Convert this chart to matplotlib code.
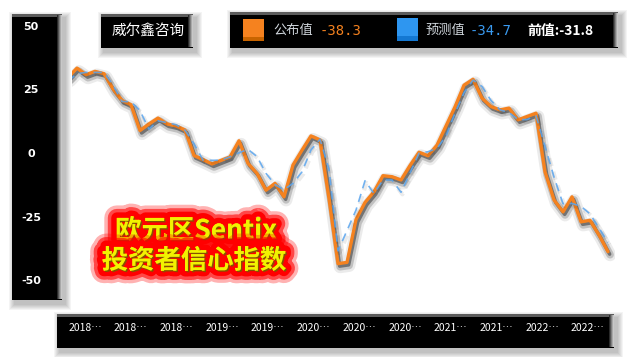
import numpy as np
import matplotlib
matplotlib.use('Agg')
import matplotlib.pyplot as plt
import matplotlib.patheffects as pe
from matplotlib.patches import Rectangle

# ---------------- data (monthly, Oct 2017 .. Oct 2022) ----------------
actual = [30.0, 33.7, 31.1,
          32.4, 31.5, 25.5, 21.0, 19.3, 9.2, 11.8, 14.1, 11.8, 11.0, 9.4, -0.6,
          -2.2, -3.9, -2.5, -1.1, 5.2, -3.7, -7.6, -14.2, -11.5, -16.8, -4.3, 1.5,
          7.1, 5.5, -17.5, -43.0, -42.5, -25.7, -19.0, -14.8, -8.5, -8.9, -10.2, -4.5,
          0.7, -0.7, 3.5, 11.0, 18.5, 27.0, 29.3, 21.9, 18.6, 17.3, 18.0, 13.4,
          14.7, 16.0, -7.0, -18.0, -22.7, -16.8, -26.6, -26.0, -31.8, -38.3]
forecast = [28.5, 31.5, 32.0,
            32.0, 32.0, 27.0, 20.6, 20.5, 17.0, 9.7, 13.0, 12.3, 11.5, 9.4, 4.0,
            -2.4, -2.5, -2.4, -1.1, 0.5, 1.8, -1.0, -7.6, -12.0, -14.0, -11.5, -7.0,
            1.6, 5.8, -6.0, -38.0, -30.0, -22.0, -10.5, -15.5, -10.2, -10.2, -15.0, -7.5,
            0.3, 0.9, 2.2, 7.0, 16.0, 24.0, 29.0, 26.5, 21.0, 17.3, 16.3, 13.5,
            13.5, 15.0, 3.0, -9.0, -19.5, -19.4, -20.5, -23.5, -29.0, -34.7]
y_ticks = [50, 25, 0, -25, -50]
x_labels = ["2018…", "2018…", "2018…", "2019…", "2019…", "2020…",
            "2020…", "2020…", "2021…", "2021…", "2022…", "2022…"]
title_lines = ["欧元区Sentix", "投资者信心指数"]
watermark = "威尔鑫咨询"
legend_names = ["公布值", "预测值"]
prev_name = "前值"

ORANGE = '#F5821F'
CJK = ['Noto Sans CJK SC', 'DejaVu Sans']

W, H = 631, 357
fig = plt.figure(figsize=(W / 100, H / 100), dpi=100)
fig.patch.set_facecolor('white')

# background / decoration layer in pixel coordinates
bg = fig.add_axes([0, 0, 1, 1])
bg.set_xlim(0, W)
bg.set_ylim(H, 0)
bg.axis('off')


def panel(x0, y0, x1, y1):
    w, h = x1 - x0, y1 - y0
    for s in range(1, 7):
        bg.add_patch(Rectangle((x0 + 3 - s, y0 + 4 - s), w + 2 * s, h + 2 * s,
                               color='black', alpha=0.045, lw=0, zorder=1))
    bg.add_patch(Rectangle((x0, y0), w, h, color='black', lw=0, zorder=2))
    bg.add_patch(Rectangle((x0, y0), w, 3, color='#5c5c5c', lw=0, zorder=3))
    cols = ['#2a2a2a', '#555555', '#808080', '#a8a8a8', '#c8c8c8']
    for i, c in enumerate(cols):
        bg.add_patch(Rectangle((x1 - 5 + i, y0 + 1), 1, h - 2, color=c, lw=0, zorder=3))


panel(12, 14, 62, 300)        # y axis panel
panel(101, 14, 193, 48)       # watermark
panel(230, 12, 618, 48)       # legend
panel(57, 314, 614, 348)      # x label panel

bg.text(148, 31, watermark, color='white', fontsize=10.5, family=CJK,
        ha='center', va='center', zorder=5)

# legend
last_a, last_f, prev_a = actual[-1], forecast[-1], actual[-2]
bg.add_patch(Rectangle((243, 18.5), 21, 22, color=ORANGE, lw=0, zorder=5))
bg.add_patch(Rectangle((243, 36.5), 21, 4, color='#C86400', lw=0, zorder=6))
bg.text(273, 30.5, legend_names[0], color='#D0D6DC', fontsize=9.5, family=CJK,
        ha='left', va='center', zorder=6)
bg.text(320, 31, f"{last_a:.1f}", color=ORANGE, fontsize=10, family='DejaVu Sans Mono',
        ha='left', va='center', zorder=6)
bg.add_patch(Rectangle((397, 17.5), 21, 23, color='#2E96F0', lw=0, zorder=5))
bg.add_patch(Rectangle((397, 35.5), 21, 5, color='#1478D2', lw=0, zorder=6))
bg.text(426, 30.5, legend_names[1], color='#D0D6DC', fontsize=9.5, family=CJK,
        ha='left', va='center', zorder=6)
bg.text(470, 31, f"{last_f:.1f}", color='#3A9AF0', fontsize=10, family='DejaVu Sans Mono',
        ha='left', va='center', zorder=6)
bg.text(527, 31, f"{prev_name}:{prev_a:.1f}", color='white', fontsize=10, family=CJK,
        fontweight='bold', ha='left', va='center', zorder=6)

# y axis labels panel
ax_y = fig.add_axes([12 / W, (H - 300) / H, 50 / W, 286 / H])
ax_y.set_xlim(0, 1)
ax_y.set_ylim((154 - 300) / 2.55, (154 - 14) / 2.55)
ax_y.axis('off')
for v in y_ticks:
    ax_y.text(0.38, v, str(v), color='white', fontsize=8, fontweight='bold',
              ha='center', va='center')

# x labels panel
ax_x = fig.add_axes([57 / W, (H - 348) / H, 557 / W, 34 / H])
ax_x.set_xlim(-(85 - 57) / 45.7, (614 - 85) / 45.7)
ax_x.set_ylim(0, 1)
ax_x.axis('off')
for k, lab in enumerate(x_labels):
    ax_x.text(k, 0.58, lab, color='white', fontsize=7.5, family=CJK,
              ha='center', va='center')

# main chart
ax = fig.add_axes([72 / W, (H - 281.5) / H, (615 - 72) / W, 255 / H])
ax.set_ylim(-50, 50)
ax.set_xlim((72 - 68) / 9, (615 - 68) / 9)
ax.axis('off')
ax.patch.set_alpha(0)
x = np.arange(len(actual))

ax.plot(x, actual, color=ORANGE, lw=2.4, solid_joinstyle='round', solid_capstyle='round',
        zorder=3,
        path_effects=[pe.SimpleLineShadow(offset=(1.5, -2.4), shadow_color='black', alpha=0.08, linewidth=9),
                      pe.SimpleLineShadow(offset=(1.5, -2.2), shadow_color='black', alpha=0.18, linewidth=5.5),
                      pe.SimpleLineShadow(offset=(1.2, -1.8), shadow_color='black', alpha=0.4, linewidth=2.5),
                      pe.Normal()])
ax.plot(x, forecast, color='#5AA5EE', lw=1.2, ls=(0, (5, 3.5)), alpha=0.85, zorder=4,
        path_effects=[pe.SimpleLineShadow(offset=(1, -1.5), shadow_color='black', alpha=0.08, linewidth=3),
                      pe.Normal()])

# title with red glow
title_fx = [pe.withStroke(linewidth=18, foreground='#FF0000', alpha=0.3),
            pe.withStroke(linewidth=13, foreground='#FF0000', alpha=0.6),
            pe.withStroke(linewidth=8, foreground='#FF0000'),
            pe.SimplePatchShadow(offset=(1, -1), shadow_rgbFace='#7a5a00', alpha=0.9),
            pe.Normal()]
bg.text(196, 231, title_lines[0], color='#F2F200', fontsize=19, family=CJK,
        fontweight='bold', ha='center', va='center', zorder=8, path_effects=title_fx)
bg.text(194, 261, title_lines[1], color='#F2F200', fontsize=19, family=CJK,
        fontweight='bold', ha='center', va='center', zorder=8, path_effects=title_fx)

fig.savefig('out.png', dpi=100, facecolor='white')
